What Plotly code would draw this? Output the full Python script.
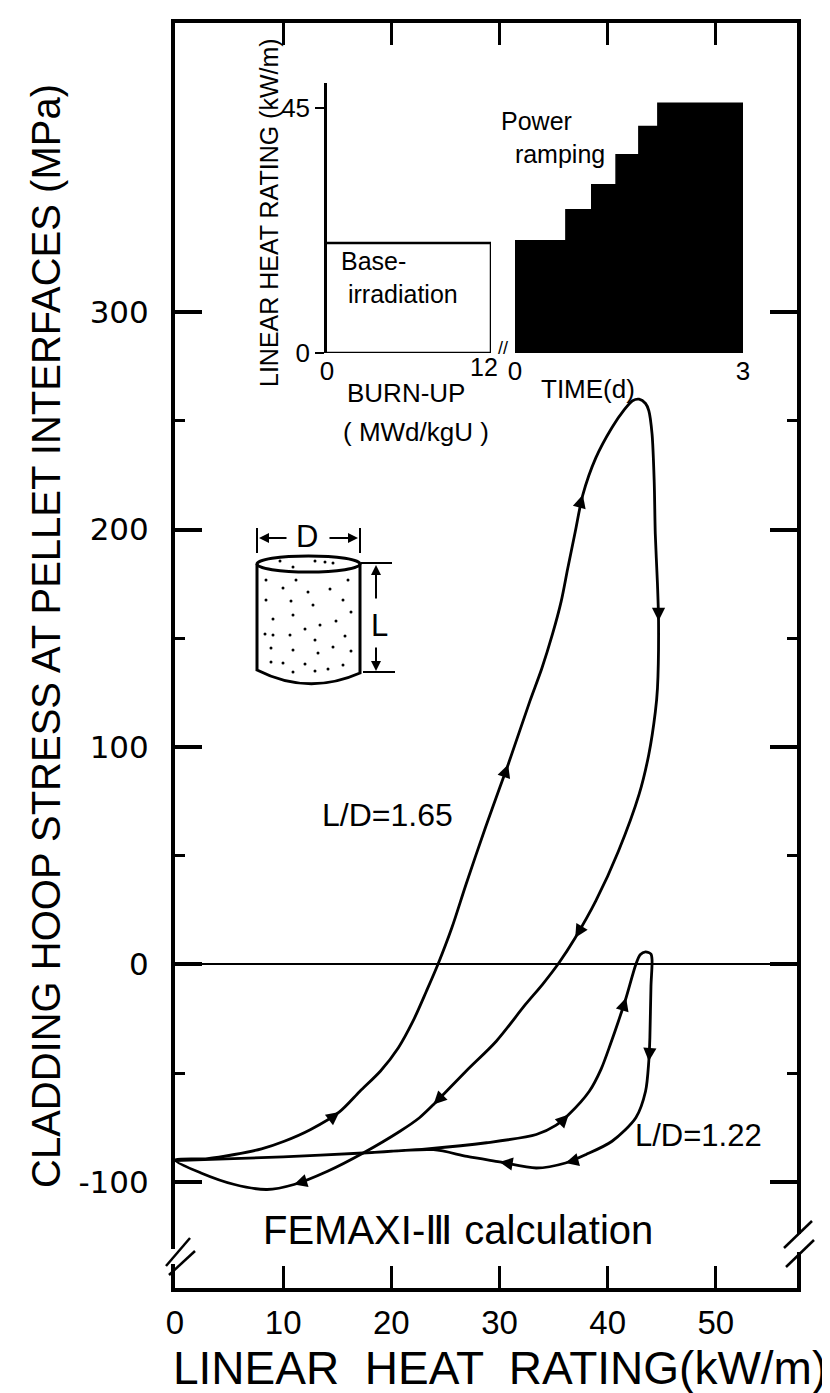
import plotly.graph_objects as go
import math

# ---------------- data ----------------
# L/D = 1.65 loop (linear heat rating kW/m, hoop stress MPa)
ld165_x = [0, 3, 5.5, 8, 10.1, 12.5, 15.2, 17.1, 19.0, 20.65, 22.0, 23.25, 24.3, 25.6, 26.9,
           28.7, 30.0, 30.8, 32.8, 33.9, 34.9, 35.7, 36.3, 37.0, 37.7, 38.9, 40.4, 41.5, 42.3,
           42.9, 43.5, 43.8, 44.1, 44.3, 44.4, 44.6, 44.7, 44.6, 44.4, 43.8, 42.9, 41.0, 38.9,
           37.0, 35.5, 34.0, 32.4, 29.7, 26.9, 23.9, 22.6, 20.8, 17.4, 14.1, 11.0, 8.5, 5.5, 2.4, 0]
ld165_y = [-90, -89.3, -87.4, -84.8, -81.3, -76, -67.8, -58.3, -49, -38.3, -26.1, -12.2, 0, 17, 36.8,
           63, 81, 92, 121, 136, 152, 167, 182, 199, 216, 233, 247, 255, 259.3,
           260, 258, 254.7, 244, 222, 198, 175, 158, 127, 116, 96.6, 78.2, 52.2, 29.2,
           12.3, 0.8, -9, -18.4, -35.3, -49.1, -64.4, -70.5, -76.7, -86.7, -95.1, -101.2, -103.5,
           -101.2, -95.9, -90]
ld165_arrows = [6, 17, 24, 36, 43, 49, 54]

# L/D = 1.22 loop
ld122_x = [0, 10, 17.4, 23.3, 28.8, 33.4, 35.2, 36.4, 38.3, 39.4, 40.3, 41.0, 41.7, 42.6, 43.0,
           43.5, 44.0, 44.1, 44.0, 43.9, 43.8, 43.5, 42.6, 40.4, 38.0, 36.1, 33.4, 30.0, 27.0,
           23.9, 17.4, 10, 0]
ld122_y = [-90.2, -88.5, -86.7, -84.8, -82, -78.2, -74, -69, -58.3, -48, -36, -26, -15.3, 0, 4.5,
           5.8, 4.8, 2, -10, -33.7, -44.5, -58.3, -70.5, -81.3, -87.4, -91.3, -93.6, -90.8, -88.3,
           -85.2, -86.7, -88.5, -90.2]
ld122_arrows = [7, 12, 20, 25, 27]

# inset: base irradiation and power ramp
base_burnup = [0, 12, 12, 0]
base_lhr = [20.2, 20.2, 0, 0]
ramp_time = [0, 0.67, 1.01, 1.33, 1.63, 1.88, 3.0]
ramp_lhr = [20.6, 26.3, 30.9, 36.4, 41.6, 45.9, 45.9]

x_ticks = [0, 10, 20, 30, 40, 50]
y_ticks = [-100, 0, 100, 200, 300]
y_tick_text = ["-100", "0", "100", "200", "300"]
y_minor = [-50, 50, 150, 250]

# ---------------- layout geometry ----------------
W, H = 830, 1393
L_PX, R_PX, T_PX, B_PX = 167, 789, 15, 1280
XR = [0, 57.5]
YR = [-148.8, 433]
NARROW = "Liberation Sans, Arial, sans-serif"
WIDE = "DejaVu Sans, sans-serif"
INK = "#000000"

def P(px, py):
    """pixel position -> paper coords"""
    return ((px - L_PX) / (R_PX - L_PX), (B_PX - py) / (B_PX - T_PX))

sx = (R_PX - L_PX) / (XR[1] - XR[0])
sy = (B_PX - T_PX) / (YR[1] - YR[0])

fig = go.Figure()

fig.add_trace(go.Scatter(x=ld165_x, y=ld165_y, mode="lines", line=dict(color=INK, width=2.8),
                         line_shape="spline", line_smoothing=0.8, hoverinfo="skip", showlegend=False))
fig.add_trace(go.Scatter(x=ld122_x, y=ld122_y, mode="lines", line=dict(color=INK, width=2.8),
                         line_shape="spline", line_smoothing=0.8, hoverinfo="skip", showlegend=False))

annotations = []

def add_arrows(xs, ys, idxs):
    for i in idxs:
        dx = (xs[i + 1] - xs[i - 1]) * sx
        dy = -(ys[i + 1] - ys[i - 1]) * sy
        n = math.hypot(dx, dy)
        ln = 14
        annotations.append(dict(x=xs[i], y=ys[i], xref="x", yref="y", ax=-dx / n * ln, ay=-dy / n * ln,
                                axref="pixel", ayref="pixel", text="", showarrow=True,
                                arrowhead=2, arrowsize=1.2, arrowwidth=2.2, arrowcolor=INK))

add_arrows(ld165_x, ld165_y, ld165_arrows)
add_arrows(ld122_x, ld122_y, ld122_arrows)

# inset traces
fig.add_trace(go.Scatter(x=base_burnup, y=base_lhr, xaxis="x2", yaxis="y2", mode="lines",
                         line=dict(color=INK, width=2.5), hoverinfo="skip", showlegend=False))
fig.add_trace(go.Scatter(x=ramp_time, y=ramp_lhr, xaxis="x3", yaxis="y2", mode="lines",
                         line=dict(color=INK, width=1.5, shape="hv"), fill="tozeroy",
                         fillcolor=INK, hoverinfo="skip", showlegend=False))

def text(px, py, s, size, font=NARROW, angle=0, xanchor="center", align="center"):
    x, y = P(px, py)
    annotations.append(dict(x=x, y=y, xref="paper", yref="paper", text=s, showarrow=False,
                            font=dict(family=font, size=size, color=INK), textangle=angle,
                            xanchor=xanchor, yanchor="middle", align=align, borderpad=0))

# titles
text(38, 628, "CLADDING HOOP STRESS AT PELLET INTERFACES (MPa)", 40, angle=-90)
text(492, 1360, "LINEAR  HEAT  RATING(kW/m)", 46)
# in-plot labels
text(379, 807, "L/D=1.65", 32)
text(690, 1127, "L/D=1.22", 31)
text(450, 1222, "FEMAXI-Ⅲ calculation", 40)
# inset labels
text(261, 205, "LINEAR HEAT RATING (kW/m)", 25, angle=-90)
text(398, 385, "BURN-UP", 26)
text(408, 424, "( MWd/kgU )", 26)
text(580, 381, "TIME(d)", 26)
text(492, 129, "Power<br>&nbsp;&nbsp;ramping", 25, xanchor="left", align="left")
text(332, 270, "Base-<br>&nbsp;irradiation", 25, xanchor="left", align="left")
text(476, 359, "12", 25)
text(495, 340, "//", 18)

# ---------------- decorations (cylinder sketch, axis breaks) ----------------
shapes = []

def line(p0, p1, w=2.5, color=INK):
    a, b = P(*p0), P(*p1)
    shapes.append(dict(type="line", xref="paper", yref="paper", x0=a[0], y0=a[1], x1=b[0], y1=b[1],
                       line=dict(color=color, width=w), layer="above"))

def path(pts, w=2.5):
    s = ""
    for cmd, coords in pts:
        s += cmd + " " + " ".join("%f,%f" % P(*c) for c in coords) + " "
    shapes.append(dict(type="path", xref="paper", yref="paper", path=s.strip(),
                       line=dict(color=INK, width=w), layer="above"))

# cylinder body
path([("M", [(249, 556)]), ("L", [(249, 662)]), ("Q", [(300, 688), (352, 665)]), ("L", [(352, 556)])], w=3)
a, b = P(249, 548), P(352, 564)
shapes.append(dict(type="circle", xref="paper", yref="paper", x0=a[0], y0=a[1], x1=b[0], y1=b[1],
                   line=dict(color=INK, width=3), layer="above"))
# D dimension
line((249, 520), (249, 545), 2)
line((352, 520), (352, 545), 2)
for head, tail in [((251, 530), (280, 530)), ((350, 530), (320, 530)),
                   ((368, 557), (368, 592)), ((368, 663), (368, 638))]:
    hx, hy = P(*head)
    annotations.append(dict(x=hx, y=hy, xref="paper", yref="paper", ax=tail[0] - head[0],
                            ay=tail[1] - head[1], text="", showarrow=True, arrowhead=2,
                            arrowsize=1.0, arrowwidth=2, arrowcolor=INK))
text(299, 528, "D", 31)
# L dimension
line((353, 555), (384, 555), 2)
line((355, 664), (387, 664), 2)
text(371, 617, "L", 31)
# stipple dots inside the cylinder
dots_px = [(258, 572), (288, 572), (340, 572), (275, 580), (300, 584), (322, 581), (258, 592),
           (283, 593), (305, 597), (335, 592), (343, 604), (265, 611), (285, 607), (312, 617),
           (328, 613), (297, 621), (257, 626), (265, 627), (282, 627), (307, 632), (337, 628),
           (263, 640), (285, 642), (310, 645), (325, 639), (343, 643), (263, 654), (275, 655),
           (297, 656), (307, 663), (320, 661), (335, 657), (285, 664), (307, 553), (317, 554),
           (325, 555), (272, 553), (285, 559)]
dots_x = [XR[0] + (p[0] - L_PX) / sx for p in dots_px]
dots_y = [YR[0] + (B_PX - p[1]) / sy for p in dots_px]
fig.add_trace(go.Scatter(x=dots_x, y=dots_y, mode="markers", marker=dict(color=INK, size=3),
                         hoverinfo="skip", showlegend=False))

# axis break marks
for rect in [((158, 1241), (176, 1256)), ((778, 1226), (800, 1244))]:
    a, b = P(*rect[0]), P(*rect[1])
    shapes.append(dict(type="rect", xref="paper", yref="paper", x0=a[0], y0=a[1], x1=b[0], y1=b[1],
                       fillcolor="white", line=dict(width=0), layer="above"))
line((158, 1258), (182, 1230), 2.5)
line((161, 1267), (187, 1243), 2.5)
line((776, 1240), (804, 1213), 2.5)
line((778, 1259), (806, 1232), 2.5)

# ---------------- axes ----------------
ix0, iy0 = P(319, 345)
ix1, iy1 = P(483, 75)
tx0, _ = P(507, 345)
tx1, _ = P(735, 345)

fig.update_layout(
    template="none",
    width=W, height=H, autosize=False,
    margin=dict(l=L_PX, r=W - R_PX, t=T_PX, b=H - B_PX, autoexpand=False),
    paper_bgcolor="white", plot_bgcolor="white",
    showlegend=False,
    xaxis=dict(range=XR, showgrid=False, zeroline=False, showline=True, linewidth=4, linecolor=INK,
               mirror="ticks", ticks="inside", ticklen=22, tickwidth=3, tickcolor=INK,
               tickvals=x_ticks, ticktext=[str(v) for v in x_ticks], automargin=False,
               tickfont=dict(family=NARROW, size=33, color=INK), ticklabelstandoff=2),
    yaxis=dict(range=YR, showgrid=False, zeroline=True, zerolinecolor=INK, zerolinewidth=2.2,
               showline=True, linewidth=4, linecolor=INK, mirror="ticks", ticks="inside",
               ticklen=27, tickwidth=3.5, tickcolor=INK, tickvals=y_ticks, ticktext=y_tick_text,
               tickfont=dict(family=WIDE, size=31, color=INK), ticklabelstandoff=16, automargin=False,
               minor=dict(tickvals=y_minor, ticklen=10, tickwidth=3, tickcolor=INK, ticks="inside")),
    xaxis2=dict(domain=[ix0, ix1], anchor="y2", range=[0, 12], showgrid=False, zeroline=False,
                showline=False, ticks="", tickvals=[0], ticktext=["0"], automargin=False,
                tickfont=dict(family=NARROW, size=26, color=INK)),
    xaxis3=dict(domain=[tx0, tx1], anchor="y2", range=[0, 3], showgrid=False, zeroline=False,
                showline=False, ticks="", tickvals=[0, 3], ticktext=["0", "3"], automargin=False,
                tickfont=dict(family=NARROW, size=26, color=INK)),
    yaxis2=dict(domain=[iy0, iy1], anchor="x2", range=[0, 49.6], showgrid=False, zeroline=False,
                showline=True, linewidth=2.5, linecolor=INK, ticks="outside", ticklen=9,
                tickwidth=2, tickcolor=INK, tickvals=[0, 45], ticktext=["0", "45"], automargin=False,
                tickfont=dict(family=NARROW, size=26, color=INK), ticklabelstandoff=0),
    annotations=annotations,
    shapes=shapes,
)

fig.write_html("out.html")
